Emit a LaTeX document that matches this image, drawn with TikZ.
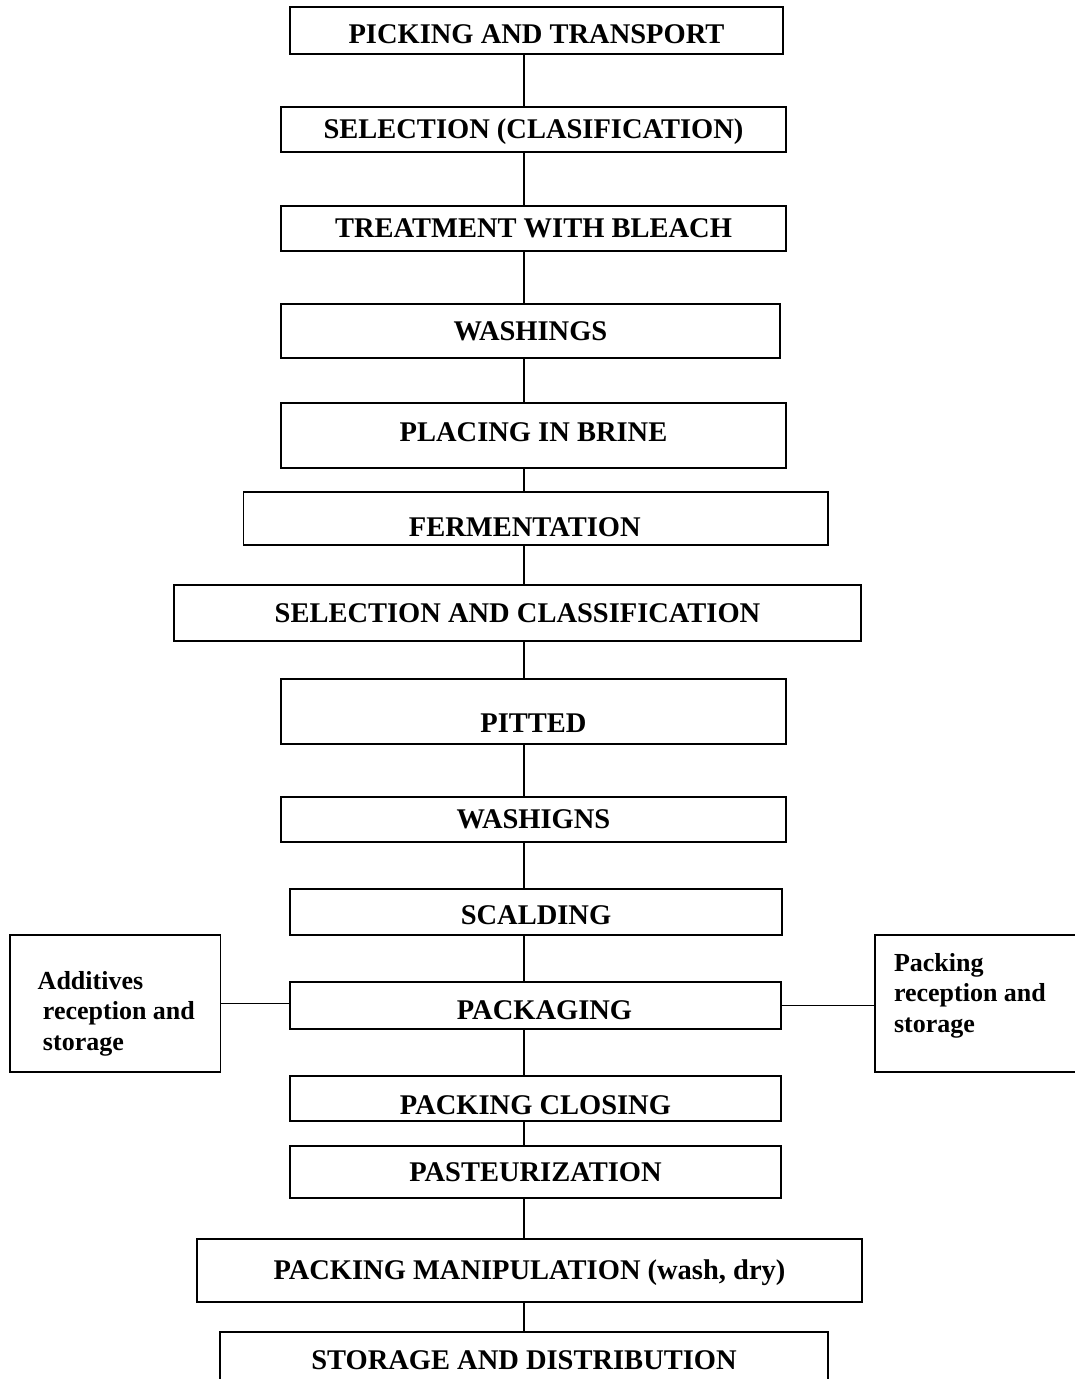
\documentclass[tikz,border=0pt]{standalone}
\usepackage{fontspec}
\setmainfont{Liberation Serif}
\usepackage{tikz}
\tikzset{
ARC/.style ={draw=black,line cap=butt,line width=1.1pt},
SIDEARC/.style ={draw=black,line cap=butt,line width=1.8pt},
BOX/.style={draw=black,line width=1.5pt,inner sep=0pt,font=\fontsize{28.5}{34}\selectfont\bfseries,text height=18.8pt,text depth=0pt},
SIDEBOX/.style={draw=black,line width=1.5pt,inner sep=0pt,font=\fontsize{26}{30.5}\selectfont\bfseries,align=flush left},
}
\begin{document}
\begin{tikzpicture} %olive processing
[x=1pt,y=-1pt]
	\useasboundingbox (0,0) rectangle (1074,1379);
	\coordinate (spine) at (524,0);
	\node[BOX,minimum width=493,minimum height=47,text height=26.8pt] (p1) at (536.5,30.5) {PICKING AND TRANSPORT};
	\node[BOX,minimum width=505,minimum height=45] (p2) at (533.5,129.5) {SELECTION (CLASIFICATION)};
	\node[BOX,minimum width=505,minimum height=45] (p3) at (533.5,228.5) {TREATMENT WITH BLEACH};
	\node[BOX,minimum width=499,minimum height=54] (p4) at (530.5,331) {WASHINGS};
	\node[BOX,minimum width=505,minimum height=65,text height=11.8pt] (p5) at (533.5,435.5) {PLACING IN BRINE};
	\node[BOX,minimum width=584.5,minimum height=53,text height=36.8pt] (p6) at (535.75,518.5) {FERMENTATION\hspace*{22pt}};
	\node[BOX,minimum width=687,minimum height=56] (p7) at (517.5,613) {SELECTION AND CLASSIFICATION};
	\node[BOX,minimum width=505,minimum height=65,text height=41.8pt] (p8) at (533.5,711.5) {PITTED};
	\node[BOX,minimum width=505,minimum height=45] (p9) at (533.5,819.5) {WASHIGNS};
	\node[BOX,minimum width=492,minimum height=46,text height=24.8pt] (p10) at (536,912) {SCALDING};
	\node[BOX,minimum width=491,minimum height=47,text height=27.8pt] (p11) at (535.5,1005.5) {\hspace*{18pt}PACKAGING};
	\node[BOX,minimum width=491,minimum height=45,text height=31.8pt] (p12) at (535.5,1098.5) {PACKING CLOSING};
	\node[BOX,minimum width=491,minimum height=52] (p13) at (535.5,1172) {PASTEURIZATION};
	\node[BOX,minimum width=665,minimum height=63] (p14) at (529.5,1270.5) {PACKING MANIPULATION (wash, dry)};
	\node[BOX,minimum width=608,minimum height=56] (p15) at (524,1360) {STORAGE AND DISTRIBUTION};
	\node[SIDEBOX,minimum width=210.5,minimum height=137,text width=162pt] (additives) at (115.25,1003.5)
		{\rule{0pt}{38pt}\hspace*{3.5pt}Additives\\\hspace*{8.75pt}reception and\\\hspace*{8.75pt}storage};
	\node[SIDEBOX,minimum width=215,minimum height=137,text width=177pt] (packing) at (982.5,1003.5)
		{Packing\\reception and\\storage\rule[-22pt]{0pt}{0pt}};
	\foreach \a/\b in {p1/p2,p2/p3,p3/p4,p4/p5,p5/p6,p6/p7,p7/p8,p8/p9,p9/p10,p10/p11,p11/p12,p12/p13,p13/p14,p14/p15}
		\path[ARC] (\a.south -| spine) -- (\b.north -| spine);
	\path[SIDEARC] (additives.east) -- (additives.east -| p11.west);
	\path[SIDEARC] (p11.east) -- (p11.east -| packing.west);
\end{tikzpicture}
\end{document}
